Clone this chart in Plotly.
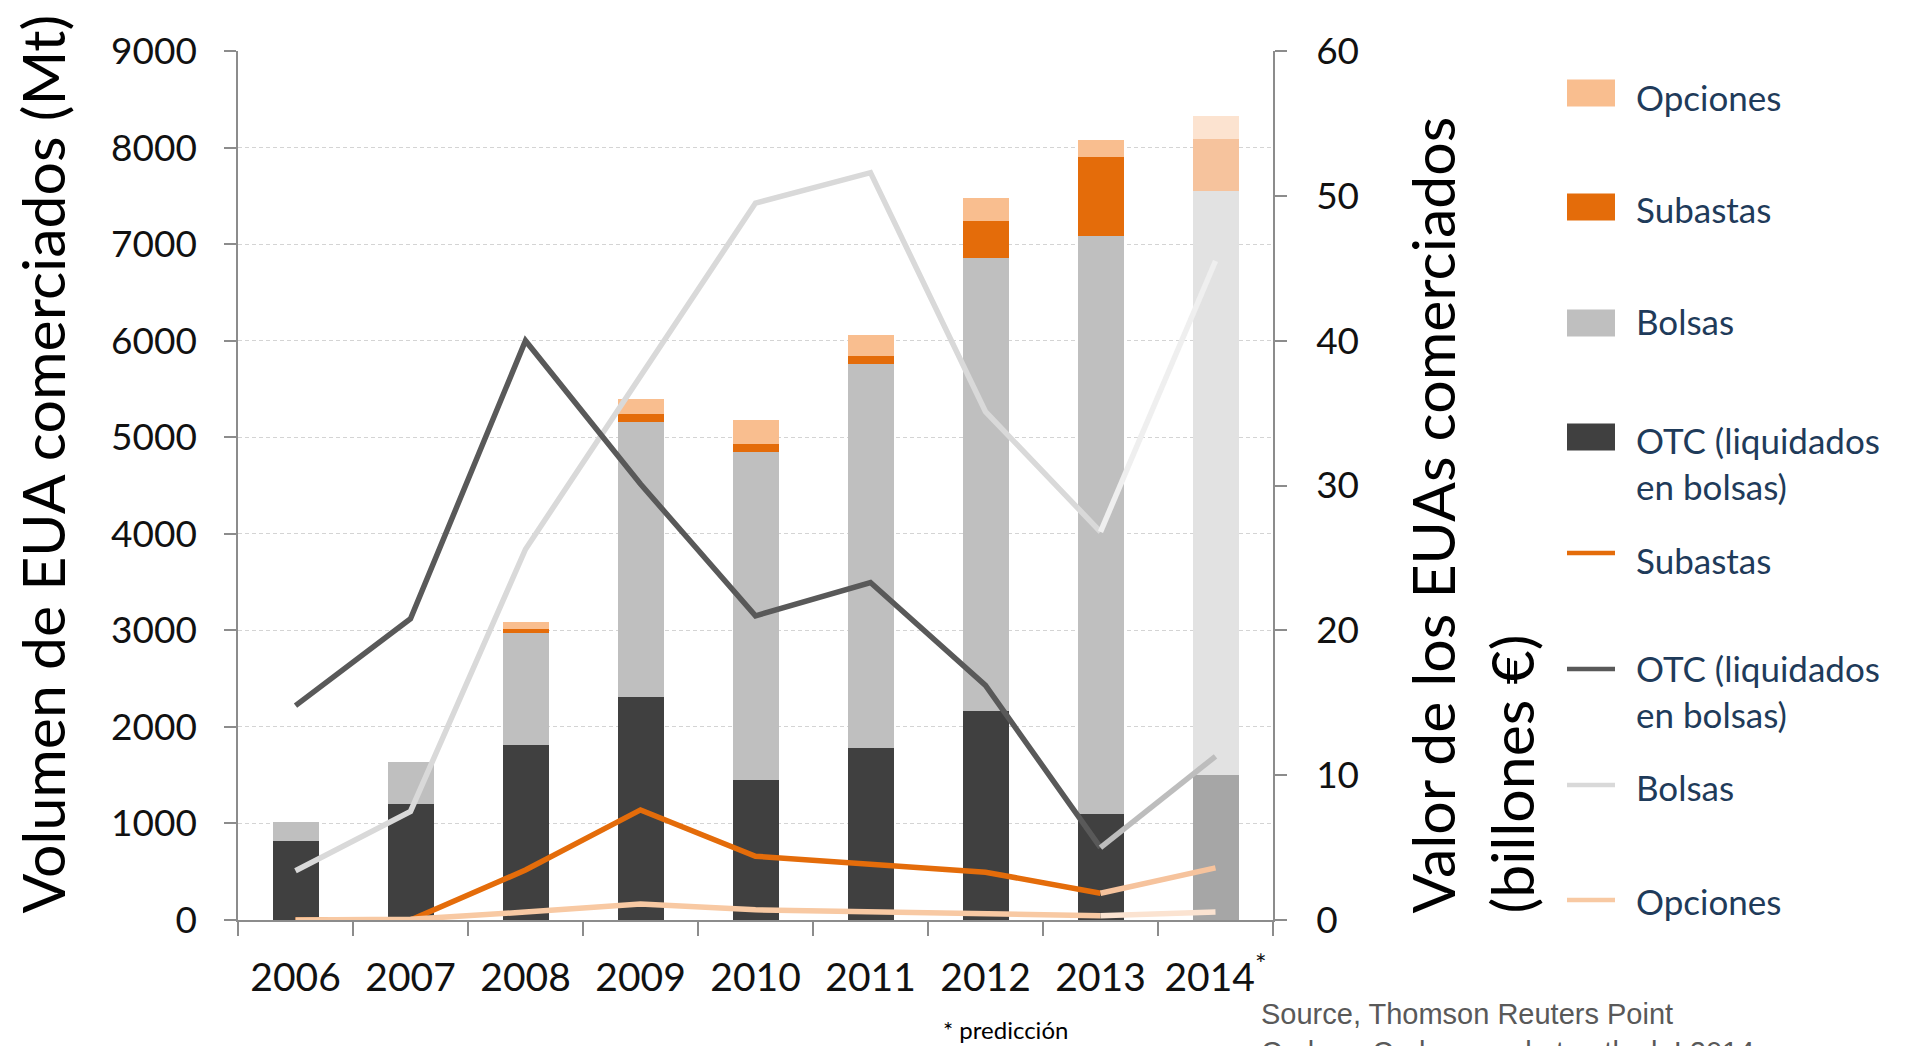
import plotly.graph_objects as go

# ---------------- data ----------------
years = ["2006", "2007", "2008", "2009", "2010", "2011", "2012", "2013", "2014<sup>*</sup>"]

# Volumen de EUA comerciados (Mt) - stacked bars
vol_otc = [820, 1205, 1810, 2310, 1450, 1780, 2160, 1095, 1500]
vol_bolsas = [190, 435, 1165, 2850, 3400, 3980, 4695, 5990, 6055]
vol_subastas = [0, 0, 35, 80, 85, 85, 380, 820, 530]
vol_opciones = [0, 0, 75, 160, 245, 215, 240, 170, 245]

# Valor de los EUAs comerciados (billones EUR) - lines
val_otc = [14.8, 20.8, 40.0, 30.1, 21.0, 23.3, 16.2, 5.0, 11.3]
val_bolsas = [3.4, 7.5, 25.6, 37.5, 49.5, 51.6, 35.1, 26.8, 45.5]
val_subastas = [0, 0, 3.45, 7.6, 4.4, 3.85, 3.3, 1.85, 3.6]
val_opciones = [0, 0.05, 0.55, 1.1, 0.7, 0.55, 0.4, 0.3, 0.55]

y_ticks_left = [0, 1000, 2000, 3000, 4000, 5000, 6000, 7000, 8000, 9000]
y_ticks_right = [0, 10, 20, 30, 40, 50, 60]

# ---------------- layout constants ----------------
W, H = 1924, 1046
L, R, T, B = 238, 1273, 51, 920
FONT = "Lato"


def px2x(px):
    return (px - L) / (R - L)


def py2y(py):
    return (B - py) / (B - T)


C_OTC, C_OTC_F = "#404040", "#a6a6a6"
C_BOL, C_BOL_F = "#bfbfbf", "#e2e2e2"
C_SUB, C_SUB_F = "#e46c0a", "#f6c39d"
C_OPC, C_OPC_F = "#f9be8f", "#fce3d0"

L_OTC, L_OTC_F = "#595959", "#bdbdbd"
L_BOL, L_BOL_F = "#d9d9d9", "#efefef"
L_SUB, L_SUB_F = "#e46c0a", "#f6c39d"
L_OPC, L_OPC_F = "#f8c9a3", "#fbe3d1"

LW = 5.5
n = len(years)


def colarr(c, cf):
    return [c] * (n - 1) + [cf]


fig = go.Figure()

for vals, c, cf, name in [
    (vol_otc, C_OTC, C_OTC_F, "OTC"),
    (vol_bolsas, C_BOL, C_BOL_F, "Bolsas"),
    (vol_subastas, C_SUB, C_SUB_F, "Subastas"),
    (vol_opciones, C_OPC, C_OPC_F, "Opciones"),
]:
    fig.add_trace(go.Bar(
        x=years, y=vals, name=name, width=0.4,
        marker=dict(color=colarr(c, cf), line=dict(width=0)),
        showlegend=False, yaxis="y",
    ))

for vals, c, cf, name in [
    (val_bolsas, L_BOL, L_BOL_F, "Bolsas"),
    (val_otc, L_OTC, L_OTC_F, "OTC"),
    (val_subastas, L_SUB, L_SUB_F, "Subastas"),
    (val_opciones, L_OPC, L_OPC_F, "Opciones"),
]:
    fig.add_trace(go.Scatter(
        x=years[:n - 1], y=vals[:n - 1], mode="lines", name=name,
        line=dict(color=c, width=LW), showlegend=False, yaxis="y2",
    ))
    fig.add_trace(go.Scatter(
        x=years[n - 2:], y=vals[n - 2:], mode="lines", name=name + " (predicción)",
        line=dict(color=cf, width=LW), showlegend=False, yaxis="y2",
    ))

# ---------------- custom legend ----------------
legend_items = [
    ("box", C_OPC, "Opciones", 93, 97),
    ("box", C_SUB, "Subastas", 207, 209),
    ("box", C_BOL, "Bolsas", 323, 321),
    ("box", C_OTC, "OTC (liquidados<br>en bolsas)", 437, 463),
    ("line", L_SUB, "Subastas", 553, 560),
    ("line", L_OTC, "OTC (liquidados<br>en bolsas)", 669, 691),
    ("line", L_BOL, "Bolsas", 785, 787),
    ("line", L_OPC, "Opciones", 900, 901),
]
shapes = []
annotations = []
for kind, col, label, ys, yt in legend_items:
    if kind == "box":
        shapes.append(dict(type="rect", xref="paper", yref="paper",
                           x0=px2x(1567), x1=px2x(1615), y0=py2y(ys + 13.5), y1=py2y(ys - 13.5),
                           fillcolor=col, line=dict(width=0)))
    else:
        shapes.append(dict(type="line", xref="paper", yref="paper",
                           x0=px2x(1567), x1=px2x(1615), y0=py2y(ys), y1=py2y(ys),
                           line=dict(color=col, width=4.5)))
    annotations.append(dict(text=label, xref="paper", yref="paper", x=px2x(1634), y=py2y(yt),
                            xanchor="left", yanchor="middle", align="left", showarrow=False,
                            font=dict(family=FONT, size=35, color="#1f3b5a")))

# axis titles
annotations.append(dict(text="Volumen de EUA comerciados (Mt)", textangle=-90,
                        xref="paper", yref="paper", x=px2x(42), y=py2y(916),
                        xanchor="center", yanchor="bottom", showarrow=False,
                        font=dict(family=FONT, size=59, color="#000000")))
annotations.append(dict(text="Valor de los EUAs comerciados", textangle=-90,
                        xref="paper", yref="paper", x=px2x(1432), y=py2y(916),
                        xanchor="center", yanchor="bottom", showarrow=False,
                        font=dict(family=FONT, size=59, color="#000000")))
annotations.append(dict(text="(billones €)", textangle=-90,
                        xref="paper", yref="paper", x=px2x(1511), y=py2y(916),
                        xanchor="center", yanchor="bottom", showarrow=False,
                        font=dict(family=FONT, size=59, color="#000000")))
annotations.append(dict(text="* predicción", xref="paper", yref="paper",
                        x=px2x(1005), y=py2y(1029), xanchor="center", yanchor="middle",
                        showarrow=False, font=dict(family=FONT, size=24, color="#000000")))
annotations.append(dict(text="Source, Thomson Reuters Point<br>Carbon, Carbon market outlook I 2014",
                        xref="paper", yref="paper", x=px2x(1259), y=py2y(996),
                        xanchor="left", yanchor="top", align="left", showarrow=False,
                        font=dict(family="Liberation Sans", size=29, color="#595959")))

AX = "#8c8c8c"
fig.update_layout(
    width=W, height=H,
    margin=dict(l=L, r=W - R, t=T, b=H - B),
    paper_bgcolor="white", plot_bgcolor="white",
    barmode="stack",
    showlegend=False,
    font=dict(family=FONT, color="#111111"),
    xaxis=dict(
        type="category", tickson="boundaries", ticks="outside", ticklen=14,
        tickcolor=AX, tickwidth=1.5, showline=True, linecolor=AX, linewidth=1.5,
        showgrid=False, tickfont=dict(family=FONT, size=39, color="#111111"),
        ticklabelstandoff=22, range=[-0.5, n - 0.5],
    ),
    yaxis=dict(
        range=[0, 9000], tickvals=y_ticks_left, ticks="outside", ticklen=12,
        tickcolor=AX, tickwidth=1.5, showline=True, linecolor=AX, linewidth=1.5,
        showgrid=True, gridcolor="#d4d4d4", gridwidth=1, griddash="4px,3px",
        zeroline=False, tickfont=dict(family=FONT, size=37, color="#111111"),
        ticklabelstandoff=20,
    ),
    yaxis2=dict(
        range=[0, 60], tickvals=y_ticks_right, overlaying="y", side="right",
        ticks="outside", ticklen=12, tickcolor=AX, tickwidth=1.5,
        showline=True, linecolor=AX, linewidth=1.5, showgrid=False, zeroline=False,
        tickfont=dict(family=FONT, size=37, color="#111111"), ticklabelstandoff=22,
    ),
    shapes=shapes,
    annotations=annotations,
)

fig.write_html("out.html")
